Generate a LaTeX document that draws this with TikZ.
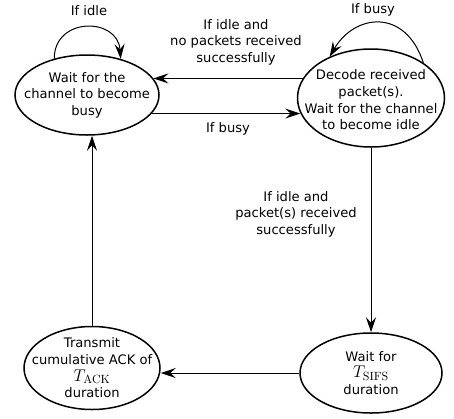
\RequirePackage{fix-cm}
\documentclass[tikz,border=0pt]{standalone}
\usepackage[no-math]{fontspec}
\setmainfont{DejaVu Sans}
\usetikzlibrary{shapes.geometric,arrows.meta}
\tikzset{
  st/.style={draw, ellipse, line width=1.5pt, inner sep=0pt},
  txt/.style={align=center, inner sep=0pt, font=\fontsize{13.1}{16.6}\selectfont},
  arr/.style={-{Stealth[length=15pt,width=10pt,inset=5.5pt]}, line width=1pt}
}
\newcommand{\bigmath}[1]{{\fontsize{17}{16.6}\selectfont$#1$}}
\begin{document}
\begin{tikzpicture}[x=1pt,y=-1pt]
\useasboundingbox (0,0) rectangle (454,418);
% states
\node[st, minimum width=144pt, minimum height=80pt] (A) at (87,95) {};
\node[st, minimum width=147pt, minimum height=98pt] (B) at (371,98) {};
\node[st, minimum width=142pt, minimum height=80pt] (C) at (371,373) {};
\node[st, minimum width=136pt, minimum height=83pt] (D) at (92,368) {};
% state texts
\node[txt] (At) at (A) {Wait for the\\channel to become\\busy};
\node[txt] (Bt) at (371,100) {Decode received\\packet(s).\\Wait for the channel\\to become idle};
\node[txt] (Ct) at (C) {Wait for\\\bigmath{T_{\mathrm{SIFS}}}\\duration};
\node[txt] (Dt) at (D) {Transmit\\cumulative ACK of\\\bigmath{T_{\mathrm{ACK}}}\\duration};
% transitions
\draw[arr] (B.164) -- (A.14 |- B.164);
\draw[arr] (A.-16) -- (B.-168 |- A.-16);
\draw[arr] (B) -- (C);
\draw[arr] (C.west) -- (C.west -| D.east);
\draw[arr] (D) -- (D |- A.south);
\draw[arr] (A.132) .. controls +(0,-42) and +(-3,-42) .. (A.47);
\draw[arr] (B.34) .. controls +(-18,-55) and +(25,-43) .. (B.135);
% labels
\node[txt] (L1) at (89,11) {If idle};
\node[txt] (L2) at (373,10) {If busy};
\node[txt] (L3) at (236,42) {If idle and\\no packets received\\successfully};
\node[txt] (L4) at (228,129) {If busy};
\node[txt] (L5) at (296,214) {If idle and\\packet(s) received\\successfully};
\end{tikzpicture}
\end{document}
